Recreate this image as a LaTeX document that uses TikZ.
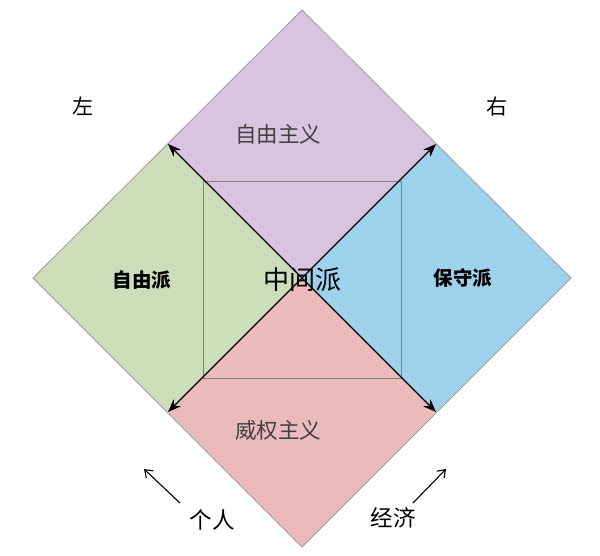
\documentclass[tikz,border=0pt]{standalone}
\usepackage{fontspec}
\setmainfont{Noto Sans CJK SC}
\usetikzlibrary{arrows.meta}
\definecolor{cpurple}{HTML}{D8C4DE}
\definecolor{cgreen}{HTML}{CDDCB9}
\definecolor{cblue}{HTML}{9DD1EC}
\definecolor{cred}{HTML}{EBBBBB}
\definecolor{cedge}{HTML}{9A9A9A}
\definecolor{ctext}{HTML}{404040}
\tikzset{
  quad/.style={draw=cedge, line width=0.8pt},
  axis/.style={black, line width=1.4pt, -{Stealth[length=13pt,width=10pt]}},
  hint/.style={black, line width=1.1pt, -{Straight Barb[length=7pt,width=10pt]}},
  lbl/.style={inner sep=0pt, font=\fontsize{21}{23}\selectfont},
  boldlbl/.style={inner sep=0pt, font=\fontsize{19.5}{21}\selectfont\bfseries},
}
\begin{document}
\begin{tikzpicture}[x=1pt,y=-1pt]
\useasboundingbox (0,0) rectangle (600,555);
\coordinate (C) at (302,278);
\coordinate (T) at (302,10);
\coordinate (B) at (302,547);
\coordinate (L) at (33,278);
\coordinate (R) at (571,278);
\coordinate (TL) at (168,144);
\coordinate (TR) at (436,144);
\coordinate (BL) at (168,412);
\coordinate (BR) at (436,412);
\fill[cpurple] (T) -- (TR) -- (C) -- (TL) -- cycle;
\fill[cgreen] (TL) -- (C) -- (BL) -- (L) -- cycle;
\fill[cblue] (TR) -- (R) -- (BR) -- (C) -- cycle;
\fill[cred] (C) -- (BR) -- (B) -- (BL) -- cycle;
\draw[quad] (T) -- (R) -- (B) -- (L) -- cycle;
\draw[draw=gray, line width=0.8pt] (203,181) rectangle (401,378);
\draw[axis] (C) -- (TL);
\draw[axis] (C) -- (TR);
\draw[axis] (C) -- (BL);
\draw[axis] (C) -- (BR);
\coordinate (a1s) at (180,503);
\coordinate (a1e) at (144,469);
\coordinate (a2s) at (413,503);
\coordinate (a2e) at (446,469);
\draw[hint] (a1s) -- (a1e);
\draw[hint] (a2s) -- (a2e);
\node[lbl] (left) at (83,106) {左};
\node[lbl] (right) at (497,107) {右};
\node[lbl, font=\fontsize{21.5}{23}\selectfont, text=ctext] (lib) at (278,134) {自由主义};
\node[boldlbl] (libp) at (142,280) {自由派};
\node[lbl, font=\fontsize{26}{28}\selectfont] (mid) at (302,280) {中间派};
\node[boldlbl] (cons) at (463,278) {保守派};
\node[lbl, font=\fontsize{21.5}{23}\selectfont, text=ctext] (auth) at (278,430) {威权主义};
\node[lbl, font=\fontsize{22.5}{24}\selectfont] (ind) at (212,520) {个人};
\node[lbl, font=\fontsize{22.5}{24}\selectfont] (eco) at (393,518) {经济};
\end{tikzpicture}
\end{document}
